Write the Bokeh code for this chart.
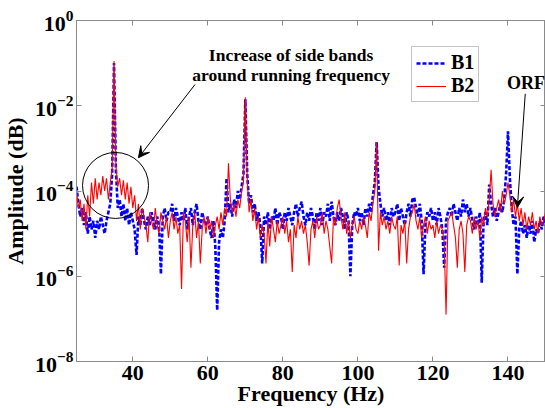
import numpy as np
from bokeh.plotting import figure
from bokeh.models import (Range1d, FixedTicker, LinearAxis, LogAxis, Legend, LegendItem,
                          Label, Arrow, VeeHead, ColumnDataSource)
from bokeh.embed import file_html
from bokeh.resources import INLINE

freq_start = 25.0
freq_step = 0.5

# log10 of amplitude, B1 (blue dashed)
b1_log10 = [
    -3.9, -4.3, -4.6, -4.4, -4.8, -4.5, -5.0, -4.6, -4.9, -4.7,
    -5.1, -4.7, -4.9, -4.6, -4.8, -5.0, -4.7, -4.5, -4.3, -3.6,
    -1.0, -3.5, -4.4, -4.2, -4.6, -4.3, -4.7, -4.4, -4.8, -4.5,
    -4.7, -4.9, -5.5, -4.6, -4.8, -4.4, -4.7, -4.9, -4.6, -4.8,
    -4.5, -4.7, -4.9, -4.6, -4.8, -5.95, -4.6, -4.4, -4.7, -4.5,
    -4.5, -4.3, -4.7, -4.4, -4.6, -4.8, -4.5, -4.7, -4.4, -4.9,
    -4.6, -4.4, -4.8, -4.5, -4.3, -4.7, -4.9, -4.5, -4.7, -4.8,
    -4.6, -4.9, -5.1, -4.7, -5.3, -6.8, -5.2, -4.9, -5.1, -4.7,
    -3.7, -4.5, -4.3, -4.6, -4.2, -4.4, -4.0, -4.2, -3.9, -3.6,
    -1.85, -3.6, -4.3, -4.1, -4.5, -4.3, -4.7, -4.5, -4.8, -5.7,
    -4.6, -4.8, -4.5, -4.9, -4.6, -4.7, -4.4, -4.8, -4.5, -4.6,
    -4.9, -4.5, -4.7, -4.4, -4.6, -4.8, -4.5, -4.3, -4.6, -4.4,
    -4.25, -4.6, -4.8, -4.5, -4.7, -4.4, -4.6, -4.9, -4.5, -4.7,
    -4.4, -4.8, -4.5, -4.6, -4.3, -4.7, -4.25, -4.6, -4.8, -4.5,
    -4.7, -4.4, -4.6, -4.9, -4.5, -4.7, -6.0, -4.8, -4.5, -4.6,
    -4.4, -4.7, -4.5, -4.8, -4.4, -4.6, -4.3, -4.5, -4.1, -3.8,
    -2.85, -3.9, -4.3, -4.6, -4.4, -4.7, -4.5, -4.8, -4.4, -4.6,
    -4.5, -4.3, -4.7, -4.4, -4.6, -4.8, -4.5, -4.3, -4.6, -4.2,
    -4.15, -4.4, -4.6, -4.3, -4.7, -5.95, -4.8, -4.5, -4.6, -4.4,
    -4.7, -4.5, -4.8, -4.4, -4.6, -4.9, -5.8, -4.7, -4.5, -4.4,
    -4.6, -4.3, -4.5, -4.7, -4.4, -4.6, -4.2, -4.5, -4.3, -4.6,
    -4.4, -4.7, -4.9, -4.6, -4.8, -4.5, -6.15, -4.7, -4.5, -4.8,
    -3.85, -4.3, -4.6, -4.4, -4.7, -4.5, -4.3, -4.5, -4.2, -3.6,
    -2.6, -3.7, -4.4, -4.8, -4.6, -5.95, -4.9, -4.7, -5.0, -4.8,
    -5.1, -4.8, -5.0, -4.7, -5.2, -4.9, -5.0, -4.7, -4.9, -4.6, -4.8,
]

# log10 of amplitude, B2 (red solid)
b2_log10 = [
    -4.0, -4.4, -4.2, -4.7, -4.3, -4.9, -4.1, -4.6, -3.8, -4.3,
    -3.7, -4.2, -3.8, -4.1, -3.65, -4.0, -3.7, -4.2, -3.8, -3.5,
    -0.95, -3.4, -3.9, -3.7, -4.1, -3.75, -4.2, -3.8, -4.3, -3.9,
    -4.4, -4.1, -4.7, -4.3, -4.9, -4.4, -4.6, -4.8, -5.2, -4.5,
    -4.7, -4.9, -4.4, -4.8, -5.0, -4.5, -4.7, -4.9, -4.6, -5.1,
    -4.7, -4.5, -4.9, -4.6, -5.0, -4.8, -6.3, -4.5, -4.7, -5.2,
    -4.6, -5.8, -4.8, -4.5, -5.1, -4.7, -5.7, -4.9, -4.6, -5.0,
    -4.6, -4.9, -4.7, -5.1, -4.8, -4.6, -4.9, -4.5, -4.8, -4.4,
    -4.6, -3.35, -4.2, -4.5, -4.3, -4.6, -4.2, -4.4, -4.0, -3.8,
    -1.8, -3.7, -4.5, -4.2, -4.7, -4.4, -4.9, -4.6, -5.1, -4.8,
    -5.0, -5.7, -4.7, -5.3, -4.6, -4.9, -5.2, -4.7, -5.0, -4.8,
    -4.6, -5.0, -4.7, -5.2, -4.9, -5.9, -4.8, -5.1, -4.6, -4.9,
    -4.7, -5.0, -4.8, -5.2, -5.75, -4.9, -4.7, -5.1, -4.6, -4.9,
    -4.8, -4.5, -5.0, -4.7, -4.9, -5.3, -5.7, -4.6, -4.8, -4.4,
    -4.2, -4.6, -4.9, -4.5, -5.0, -4.7, -5.1, -4.8, -4.6, -4.9,
    -5.0, -4.7, -4.9, -4.6, -4.8, -5.1, -4.5, -4.7, -4.3, -4.0,
    -2.85, -5.4, -4.5, -4.8, -4.6, -4.9, -4.7, -5.0, -4.6, -4.8,
    -4.9, -4.6, -5.75, -4.8, -5.0, -4.7, -5.7, -4.9, -4.6, -4.5,
    -4.3, -4.7, -4.9, -4.6, -5.1, -4.8, -4.6, -5.0, -4.7, -4.9,
    -4.8, -5.1, -4.7, -5.0, -4.8, -4.9, -5.2, -6.9, -4.7, -4.6,
    -4.5, -4.8, -5.1, -5.8, -4.9, -4.7, -5.0, -5.9, -4.8, -4.6,
    -4.7, -5.0, -4.6, -4.9, -4.7, -5.1, -4.6, -4.8, -4.4, -4.6,
    -4.2, -3.5, -4.3, -4.6, -4.4, -4.2, -4.5, -4.0, -4.3, -4.1,
    -3.8, -4.1, -4.5, -4.2, -4.6, -4.3, -4.7, -4.4, -4.8, -4.5,
    -4.9, -4.6, -4.8, -4.5, -4.9, -4.7, -5.0, -4.6, -4.8, -4.7, -4.5,
]

x_ticks = [40, 60, 80, 100, 120, 140]
y_tick_exponents = [0, -2, -4, -6, -8]
series_labels = ["B1", "B2"]

# annotation anchors (data coordinates)
circle_center = (35.4, 10 ** -3.87)
note_lines = ["Increase of side bands", "around running frequency"]
note_pos = [(82.2, 10 ** -0.82), (82.2, 10 ** -1.29)]
note_arrow = ((56.6, 10 ** -1.5), (41.5, 10 ** -3.22))
orf_label = "ORF"
orf_pos = (144.8, 10 ** -1.47)
orf_arrow = ((144.6, 10 ** -1.72), (142.5, 10 ** -4.39))

# ---- build
n = len(b1_log10)
freq = freq_start + freq_step * np.arange(n)
src = ColumnDataSource(dict(f=freq, b1=10.0 ** np.array(b1_log10), b2=10.0 ** np.array(b2_log10)))

FONT = "Liberation Serif"
AX = "#8a8a8a"

p = figure(width=545, height=412, output_backend="svg", toolbar_location=None,
           y_axis_type="log", x_range=Range1d(25, 150), y_range=Range1d(1e-8, 1),
           min_border_left=73, min_border_right=0, min_border_top=20, min_border_bottom=51,
           background_fill_color="white", border_fill_color="white")
p.grid.visible = False
p.outline_line_color = AX

rb = p.line("f", "b1", source=src, line_color="#0000FF", line_width=2.6, line_dash="4 2")
rr = p.line("f", "b2", source=src, line_color="#FF0000", line_width=1.1)

xt = FixedTicker(ticks=x_ticks, minor_ticks=[])
yt = FixedTicker(ticks=[10.0 ** e for e in y_tick_exponents], minor_ticks=[])

for ax in p.xaxis:
    ax.ticker = xt
    ax.axis_label = "Frequency (Hz)"
for ax in p.yaxis:
    ax.ticker = yt
    ax.axis_label = "Amplitude (dB)"
for ax in list(p.xaxis) + list(p.yaxis):
    ax.axis_line_color = AX
    ax.major_tick_line_color = AX
    ax.major_tick_in = 5
    ax.major_tick_out = 0
    ax.minor_tick_line_color = None
    ax.major_label_text_font = FONT
    ax.major_label_text_font_style = "bold"
    ax.major_label_text_font_size = "22px"
    ax.major_label_text_color = "black"
    ax.axis_label_text_font = FONT
    ax.axis_label_text_font_style = "bold"
    ax.axis_label_text_font_size = "22px"
    ax.axis_label_text_color = "black"
p.xaxis.major_label_standoff = 4
p.xaxis.axis_label_standoff = -2
p.yaxis.major_label_standoff = 3
p.yaxis.axis_label_standoff = 4

# mirrored ticks on top and right (labels invisible)
top = LinearAxis(ticker=xt, major_label_text_font_size="1px", major_label_text_alpha=0,
                 axis_line_color=None, major_tick_line_color=AX, major_tick_in=5,
                 major_tick_out=0, minor_tick_line_color=None, major_label_standoff=0)
right = LogAxis(ticker=yt, major_label_text_font_size="1px", major_label_text_alpha=0,
                axis_line_color=None, major_tick_line_color=AX, major_tick_in=5,
                major_tick_out=0, minor_tick_line_color=None, major_label_standoff=0)
p.add_layout(top, "above")
p.add_layout(right, "right")

# circle around side bands
p.scatter(x=[circle_center[0]], y=[circle_center[1]], marker="circle", size=66,
          fill_alpha=0, line_color="black", line_width=1)

# annotations
for txt, (x, y) in zip(note_lines, note_pos):
    p.add_layout(Label(x=x, y=y, text=txt, text_align="center", text_baseline="middle",
                       text_font=FONT, text_font_style="bold", text_font_size="17.5px",
                       text_color="black"))
p.add_layout(Arrow(x_start=note_arrow[0][0], y_start=note_arrow[0][1],
                   x_end=note_arrow[1][0], y_end=note_arrow[1][1],
                   line_color="black", line_width=1,
                   end=VeeHead(size=11, line_color="black", fill_color="black")))
p.add_layout(Label(x=orf_pos[0], y=orf_pos[1], text=orf_label, text_align="center",
                   text_baseline="middle", text_font=FONT, text_font_style="bold",
                   text_font_size="18px", text_color="black"))
p.add_layout(Arrow(x_start=orf_arrow[0][0], y_start=orf_arrow[0][1],
                   x_end=orf_arrow[1][0], y_end=orf_arrow[1][1],
                   line_color="black", line_width=1,
                   end=VeeHead(size=11, line_color="black", fill_color="black")))

legend = Legend(items=[LegendItem(label=series_labels[0], renderers=[rb]),
                       LegendItem(label=series_labels[1], renderers=[rr])],
                location=(335, 259), margin=0, padding=4, spacing=0,
                glyph_width=30, glyph_height=22, label_height=22, label_standoff=5,
                label_text_font=FONT, label_text_font_style="bold",
                label_text_font_size="20px", label_text_color="black",
                border_line_color=AX, border_line_width=1, background_fill_alpha=1)
p.add_layout(legend)

open("out.html", "w").write(file_html(p, INLINE))
